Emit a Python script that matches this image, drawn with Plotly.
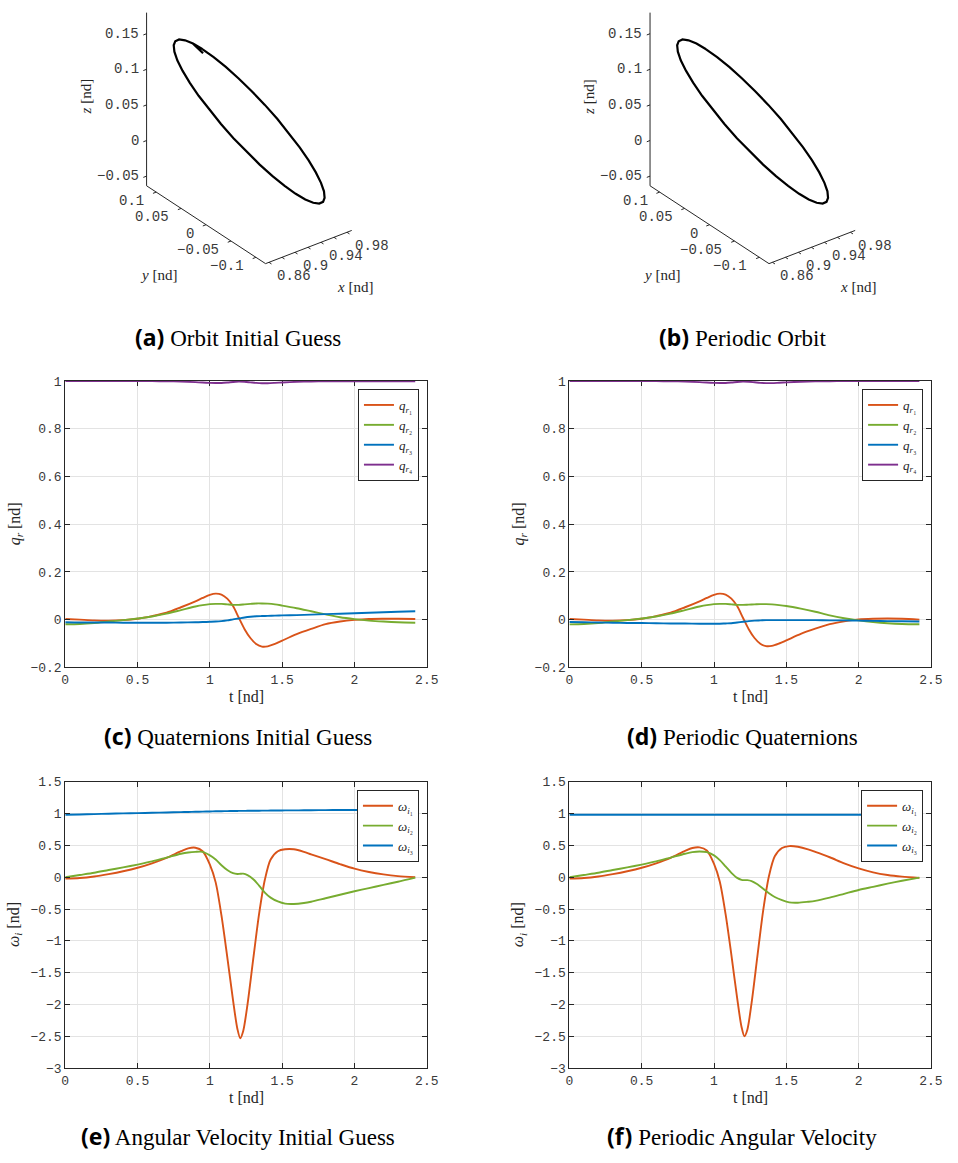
import numpy as np
import plotly.graph_objects as go

# ---------------- DATA ----------------
# Orbit (3D) - estimated points of the closed trajectory [nd]
orbit_x = [0.8547, 0.8557, 0.8587, 0.8636, 0.8702, 0.8784, 0.8879, 0.8983, 0.9095, 0.9210,
           0.9325, 0.9437, 0.9542, 0.9636, 0.9718, 0.9784, 0.9833, 0.9863, 0.9873,
           0.9863, 0.9833, 0.9784, 0.9718, 0.9636, 0.9542, 0.9437, 0.9325, 0.9210,
           0.9095, 0.8983, 0.8879, 0.8784, 0.8702, 0.8636, 0.8587, 0.8557, 0.8547]
orbit_y = [0.0069, -0.0139, -0.0343, -0.0537, -0.0714, -0.0870, -0.0998, -0.1097, -0.1163, -0.1193,
           -0.1187, -0.1145, -0.1068, -0.0958, -0.0820, -0.0657, -0.0473, -0.0275, -0.0069,
           0.0139, 0.0343, 0.0537, 0.0714, 0.0870, 0.0998, 0.1097, 0.1163, 0.1193,
           0.1187, 0.1145, 0.1068, 0.0958, 0.0820, 0.0657, 0.0473, 0.0275, 0.0069]
orbit_z = [0.1796, 0.1778, 0.1723, 0.1633, 0.1511, 0.1362, 0.1188, 0.0996, 0.0791, 0.0580,
           0.0369, 0.0164, -0.0028, -0.0202, -0.0351, -0.0473, -0.0563, -0.0618, -0.0636,
           -0.0618, -0.0563, -0.0473, -0.0351, -0.0202, -0.0028, 0.0164, 0.0369, 0.0580,
           0.0791, 0.0996, 0.1188, 0.1362, 0.1511, 0.1633, 0.1723, 0.1778, 0.1796]
# the initial guess ends slightly off its starting point
guess_end_x = [0.8557, 0.8562]
guess_end_y = [0.0275, 0.0080]
guess_end_z = [0.1778, 0.1730]

# 3D axis limits (tight) and ticks
x_lim3d = [0.8547, 0.9873]
y_lim3d = [-0.1193, 0.1193]
z_lim3d = [-0.0636, 0.1796]
x_ticks3d = [0.86, 0.88, 0.90, 0.92, 0.94, 0.96, 0.98]
x_text3d = ["0.86", "", "0.9", "", "0.94", "", "0.98"]
y_ticks3d = [-0.1, -0.05, 0, 0.05, 0.1]
y_text3d = ["\u22120.1", "\u22120.05", "0", "0.05", "0.1"]
z_ticks3d = [-0.05, 0, 0.05, 0.1, 0.15]
z_text3d = ["\u22120.05", "0", "0.05", "0.1", "0.15"]

# Quaternions
t_q = [0, 0.1, 0.2, 0.3, 0.4, 0.5, 0.6, 0.7, 0.8, 0.9, 0.95, 1.0, 1.04, 1.08, 1.12, 1.16,
       1.2, 1.24, 1.28, 1.32, 1.36, 1.4, 1.45, 1.5, 1.6, 1.7, 1.8, 1.9, 2.0, 2.1, 2.2, 2.3, 2.42]
q1_guess = [0.003, 0.0, -0.003, -0.004, -0.002, 0.004, 0.015, 0.029, 0.052, 0.077, 0.091, 0.104,
            0.109, 0.105, 0.088, 0.057, 0.008, -0.040, -0.077, -0.102, -0.113, -0.112, -0.102,
            -0.088, -0.061, -0.039, -0.019, -0.008, -0.001, 0.003, 0.004, 0.004, 0.003]
q2_guess = [-0.019, -0.018, -0.014, -0.008, -0.002, 0.005, 0.013, 0.025, 0.040, 0.055, 0.061, 0.065,
            0.066, 0.066, 0.064, 0.062, 0.062, 0.064, 0.066, 0.068, 0.068, 0.067, 0.064,
            0.059, 0.048, 0.035, 0.022, 0.010, 0.002, -0.004, -0.008, -0.011, -0.013]
q3_guess = [-0.011, -0.012, -0.012, -0.012, -0.013, -0.013, -0.013, -0.013, -0.012, -0.011, -0.010,
            -0.009, -0.008, -0.006, -0.003, 0.001, 0.005, 0.009, 0.012, 0.014, 0.015, 0.016, 0.017,
            0.018, 0.019, 0.021, 0.023, 0.025, 0.027, 0.029, 0.031, 0.033, 0.035]
q4_guess = [0.9998, 0.9998, 0.9999, 0.9999, 0.9999, 0.9999, 0.9998, 0.9993, 0.9978, 0.9955, 0.9939,
            0.9924, 0.9918, 0.9922, 0.9940, 0.9964, 0.9980, 0.9971, 0.9948, 0.9924, 0.9912, 0.9913,
            0.9927, 0.9943, 0.9969, 0.9986, 0.9995, 0.9996, 0.9996, 0.9995, 0.9994, 0.9994, 0.9993]

q1_per = [0.003, 0.0, -0.003, -0.004, -0.002, 0.004, 0.015, 0.029, 0.052, 0.077, 0.091, 0.104,
          0.109, 0.105, 0.088, 0.057, 0.008, -0.040, -0.077, -0.101, -0.111, -0.110, -0.100,
          -0.087, -0.060, -0.038, -0.019, -0.007, 0.001, 0.004, 0.005, 0.004, 0.000]
q2_per = [-0.020, -0.018, -0.014, -0.008, -0.002, 0.005, 0.013, 0.025, 0.040, 0.055, 0.061, 0.065,
          0.066, 0.066, 0.064, 0.062, 0.062, 0.063, 0.064, 0.065, 0.065, 0.064, 0.061,
          0.057, 0.046, 0.033, 0.018, 0.006, -0.003, -0.010, -0.015, -0.018, -0.019]
q3_per = [-0.010, -0.011, -0.012, -0.013, -0.014, -0.014, -0.015, -0.016, -0.016, -0.017, -0.017,
          -0.017, -0.017, -0.016, -0.015, -0.012, -0.009, -0.006, -0.004, -0.003, -0.002, -0.002,
          -0.002, -0.002, -0.002, -0.002, -0.003, -0.003, -0.004, -0.005, -0.006, -0.007, -0.008]
q4_per = [0.9997, 0.9998, 0.9998, 0.9999, 0.9999, 0.9999, 0.9998, 0.9993, 0.9978, 0.9955, 0.9939,
          0.9924, 0.9918, 0.9922, 0.9940, 0.9964, 0.9980, 0.9972, 0.9950, 0.9927, 0.9916, 0.9917,
          0.9931, 0.9946, 0.9971, 0.9987, 0.9996, 0.9999, 0.9999, 0.9999, 0.9998, 0.9998, 0.9998]

# Angular velocity
t_w = [0, 0.1, 0.2, 0.3, 0.4, 0.5, 0.6, 0.7, 0.8, 0.85, 0.9, 0.95, 1.0, 1.04, 1.08, 1.12, 1.16,
       1.19, 1.21, 1.23, 1.26, 1.3, 1.34, 1.38, 1.42, 1.47, 1.52, 1.58, 1.65, 1.7, 1.8, 1.9,
       2.0, 2.1, 2.2, 2.3, 2.42]
w1_guess = [-0.02, -0.012, 0.012, 0.05, 0.095, 0.15, 0.22, 0.305, 0.41, 0.455, 0.465, 0.41, 0.20,
            -0.08, -0.60, -1.25, -1.93, -2.38, -2.53, -2.42, -2.00, -1.28, -0.58, -0.04, 0.28,
            0.41, 0.44, 0.44, 0.40, 0.36, 0.285, 0.207, 0.135, 0.083, 0.045, 0.018, 0.0]
w2_guess = [0.0, 0.036, 0.072, 0.114, 0.155, 0.20, 0.25, 0.31, 0.37, 0.39, 0.40, 0.40, 0.345,
            0.28, 0.19, 0.115, 0.065, 0.052, 0.055, 0.057, 0.035, -0.03, -0.13, -0.24, -0.32,
            -0.38, -0.415, -0.42, -0.405, -0.385, -0.33, -0.275, -0.22, -0.17, -0.12, -0.07, -0.005]
w3_guess = [0.983, 0.988, 0.993, 0.999, 1.004, 1.009, 1.014, 1.019, 1.025, 1.027, 1.030, 1.032,
            1.035, 1.037, 1.039, 1.040, 1.042, 1.043, 1.044, 1.044, 1.045, 1.046, 1.047, 1.048,
            1.049, 1.050, 1.051, 1.052, 1.053, 1.054, 1.056, 1.057, 1.058, 1.059, 1.059, 1.060, 1.060]

w1_per = [-0.02, -0.012, 0.012, 0.05, 0.095, 0.15, 0.22, 0.305, 0.415, 0.46, 0.47, 0.42, 0.21,
          -0.07, -0.58, -1.22, -1.90, -2.35, -2.50, -2.40, -1.97, -1.24, -0.52, 0.02, 0.33,
          0.46, 0.49, 0.48, 0.44, 0.40, 0.315, 0.22, 0.14, 0.078, 0.036, 0.01, -0.01]
w2_per = [0.0, 0.036, 0.072, 0.114, 0.155, 0.20, 0.25, 0.31, 0.37, 0.395, 0.405, 0.395, 0.345,
          0.27, 0.17, 0.07, -0.01, -0.04, -0.045, -0.045, -0.06, -0.11, -0.18, -0.25, -0.31,
          -0.36, -0.395, -0.40, -0.385, -0.37, -0.32, -0.26, -0.20, -0.15, -0.10, -0.055, -0.005]
w3_per = [0.983] * len(t_w)

x_ticks = [0, 0.5, 1, 1.5, 2, 2.5]
x_ticktext = ["0", "0.5", "1", "1.5", "2", "2.5"]
q_ticks = [-0.2, 0, 0.2, 0.4, 0.6, 0.8, 1]
q_ticktext = ["\u22120.2", "0", "0.2", "0.4", "0.6", "0.8", "1"]
w_ticks = [-3, -2.5, -2, -1.5, -1, -0.5, 0, 0.5, 1, 1.5]
w_ticktext = ["\u22123", "\u22122.5", "\u22122", "\u22121.5", "\u22121", "\u22120.5", "0", "0.5", "1", "1.5"]

# ---------------- STYLE ----------------
W, H = 958, 1163
ORANGE, GREEN, BLUE, PURPLE = "#D95319", "#77AC30", "#0072BD", "#7E2F8E"
AX = "#262626"
TICKTXT = "#3a3a3a"
GRID = "#e3e3e3"
MONO = "Liberation Mono"
SERIF = "Liberation Serif"

# MATLAB-like 3D view (azimuth, elevation) with equal data aspect
VIEW_AZ, VIEW_EL = -37.5, 30.0
SCALE3D = 833.0            # px per nd unit
_phi = np.deg2rad(270 + VIEW_AZ)
_el = np.deg2rad(VIEW_EL)
RIGHT = np.array([-np.sin(_phi), np.cos(_phi), 0.0])
UP = np.array([-np.sin(_el) * np.cos(_phi), -np.sin(_el) * np.sin(_phi), np.cos(_el)])
ORIGIN = np.array([x_lim3d[0], y_lim3d[0], z_lim3d[0]])


def project(x, y, z):
    p = np.vstack([np.atleast_1d(np.asarray(x, float)), np.atleast_1d(np.asarray(y, float)),
                   np.atleast_1d(np.asarray(z, float))]) - ORIGIN[:, None]
    return SCALE3D * (RIGHT @ p), SCALE3D * (UP @ p)


def px_x(p):
    return p / W


def px_y(p):
    return 1 - p / H


fig = go.Figure()
ann = []

# ---------------- 3D panels (projected) ----------------
TICK = 0.005


def orbit_panel(xk, yk, ox, oy, oz, corner_px, dom_px):
    cx, cy = corner_px
    L, R, T, B = dom_px
    X, Y = project(ox, oy, oz)
    fig.add_trace(go.Scatter(x=X, y=Y, mode="lines", line=dict(color="black", width=2.2),
                             showlegend=False, xaxis=xk, yaxis=yk))
    x0, x1 = x_lim3d
    y0, y1 = y_lim3d
    z0, z1 = z_lim3d
    segs = [((x0, y0, z0), (x1, y0, z0)), ((x0, y0, z0), (x0, y1, z0)), ((x0, y1, z0), (x0, y1, z1))]
    segs += [((v, y0, z0), (v, y0 - TICK, z0)) for v in x_ticks3d]
    segs += [((x0, v, z0), (x0 - TICK, v, z0)) for v in y_ticks3d]
    segs += [((x0, y1, v), (x0 - TICK, y1, v)) for v in z_ticks3d]
    sx, sy = [], []
    for a, b in segs:
        pa, pb = project(*a), project(*b)
        sx += [pa[0][0], pb[0][0], None]
        sy += [pa[1][0], pb[1][0], None]
    fig.add_trace(go.Scatter(x=sx, y=sy, mode="lines", line=dict(color=AX, width=1),
                             showlegend=False, xaxis=xk, yaxis=yk))

    def lab(px_, py_, s, xanchor, xs, ys):
        ann.append(dict(x=float(px_), y=float(py_), xref=xk, yref=yk, text=s, showarrow=False,
                        font=dict(family=MONO, size=14, color=TICKTXT), xanchor=xanchor,
                        yanchor="middle", xshift=xs, yshift=ys))
    for v, s in zip(x_ticks3d, x_text3d):
        if s:
            X, Y = project(v, y0, z0)
            lab(X[0], Y[0], s, "left", 6, -14)
    for v, s in zip(y_ticks3d, y_text3d):
        X, Y = project(x0, v, z0)
        lab(X[0], Y[0], s, "right", -10, -9)
    for v, s in zip(z_ticks3d, z_text3d):
        X, Y = project(x0, y1, v)
        lab(X[0], Y[0], s, "right", -6, 0)
    return (dict(domain=[px_x(L), px_x(R)], range=[L - cx, R - cx], visible=False, anchor=yk),
            dict(domain=[px_y(B), px_y(T)], range=[cy - B, cy - T], visible=False, anchor=xk))


layout = dict(width=W, height=H, margin=dict(l=0, r=0, t=0, b=0), paper_bgcolor="white",
              plot_bgcolor="white", hovermode=False)

layout["xaxis5"], layout["yaxis5"] = orbit_panel(
    "x5", "y5", orbit_x + guess_end_x, orbit_y + guess_end_y, orbit_z + guess_end_z,
    (266, 261), (60, 420, 0, 300))
layout["xaxis6"], layout["yaxis6"] = orbit_panel(
    "x6", "y6", orbit_x, orbit_y, orbit_z, (778, 261), (572, 932, 0, 300))

# ---------------- 2D panels ----------------
panels = {
    "c": dict(x=(62.3, 430), y=(380, 670)),
    "d": dict(x=(575, 942.7), y=(380, 670)),
    "e": dict(x=(62.3, 430), y=(786, 1076)),
    "f": dict(x=(575, 942.7), y=(786, 1076)),
}
axis_ids = {"c": ("x", "y", ""), "d": ("x2", "y2", "2"), "e": ("x3", "y3", "3"), "f": ("x4", "y4", "4")}


def add_lines(panel, t, series, names, colors, legend):
    xa, ya, _ = axis_ids[panel]
    for s, n, c in zip(series, names, colors):
        fig.add_trace(go.Scatter(x=t, y=s, mode="lines", name=n, cliponaxis=False,
                                 line=dict(color=c, width=1.9, shape="spline", smoothing=0.8),
                                 xaxis=xa, yaxis=ya, legend=legend))


q_names = ["<i>q</i><sub><i>r</i>\u2081</sub>", "<i>q</i><sub><i>r</i>\u2082</sub>",
           "<i>q</i><sub><i>r</i>\u2083</sub>", "<i>q</i><sub><i>r</i>\u2084</sub>"]
w_names = ["<i>\u03c9</i><sub><i>i</i>\u2081</sub>", "<i>\u03c9</i><sub><i>i</i>\u2082</sub>",
           "<i>\u03c9</i><sub><i>i</i>\u2083</sub>"]
add_lines("c", t_q, [q1_guess, q2_guess, q3_guess, q4_guess], q_names, [ORANGE, GREEN, BLUE, PURPLE], "legend")
add_lines("d", t_q, [q1_per, q2_per, q3_per, q4_per], q_names, [ORANGE, GREEN, BLUE, PURPLE], "legend2")
add_lines("e", t_w, [w1_guess, w2_guess, w3_guess], w_names, [ORANGE, GREEN, BLUE], "legend3")
add_lines("f", t_w, [w1_per, w2_per, w3_per], w_names, [ORANGE, GREEN, BLUE], "legend4")

for p, spec in panels.items():
    xa, ya, sfx = axis_ids[p]
    is_q = p in ("c", "d")
    common = dict(showgrid=True, gridcolor=GRID, gridwidth=1, zeroline=False, showline=True,
                  linecolor=AX, linewidth=1, mirror="allticks", ticks="inside", ticklen=5,
                  tickcolor=AX, tickfont=dict(family=MONO, size=13, color=TICKTXT))
    layout["xaxis" + sfx] = dict(common, domain=[px_x(spec["x"][0]), px_x(spec["x"][1])],
                                 anchor=ya, range=[0, 2.5], tickvals=x_ticks, ticktext=x_ticktext,
                                 layer="below traces")
    layout["yaxis" + sfx] = dict(common, domain=[px_y(spec["y"][1]), px_y(spec["y"][0])],
                                 anchor=xa, range=[-0.2, 1] if is_q else [-3, 1.5],
                                 tickvals=q_ticks if is_q else w_ticks,
                                 ticktext=q_ticktext if is_q else w_ticktext)
    leg_top = 388 if is_q else 794
    layout["legend" + sfx] = dict(x=px_x(spec["x"][1] - 8), y=px_y(leg_top), xanchor="right", yanchor="top",
                                  bgcolor="white", bordercolor=AX, borderwidth=1,
                                  font=dict(family=SERIF, size=13, color=AX), itemwidth=30,
                                  tracegroupgap=0)

fig.update_layout(**layout)


# ---------------- annotations (titles / captions) ----------------
def text(xp, yp, s, size, family=SERIF, angle=0, xanchor="center"):
    ann.append(dict(x=px_x(xp), y=px_y(yp), xref="paper", yref="paper", text=s, showarrow=False,
                    font=dict(family=family, size=size, color="black" if size > 18 else AX),
                    textangle=angle, xanchor=xanchor, yanchor="middle"))


BOLD = '<span style="font-family:Noto Sans;font-weight:bold">'
captions = [(238, 335, "(a)", "Orbit Initial Guess"), (751, 335, "(b)", "Periodic Orbit"),
            (238, 740, "(c)", "Quaternions Initial Guess"), (751, 740, "(d)", "Periodic Quaternions"),
            (238, 1145, "(e)", "Angular Velocity Initial Guess"), (751, 1145, "(f)", "Periodic Angular Velocity")]
for xp, yp, tag, cap in captions:
    text(xp, yp, BOLD + tag + "</span> " + cap, 23)

for off in (0, 512):
    text(83 + off, 92, "<i>z</i> [nd]", 15, angle=-90)
    text(157 + off, 273, "<i>y</i> [nd]", 15)
    text(357 + off, 285, "<i>x</i> [nd]", 15)

for p, spec in panels.items():
    cx = (spec["x"][0] + spec["x"][1]) / 2
    cy = (spec["y"][0] + spec["y"][1]) / 2
    text(cx, spec["y"][1] + 30, "t [nd]", 16)
    lbl = "<i>q</i><sub><i>r</i></sub> [nd]" if p in ("c", "d") else "<i>\u03c9</i><sub><i>i</i></sub> [nd]"
    text(spec["x"][0] - 51, cy, lbl, 16, angle=-90)

fig.update_layout(annotations=ann)
fig.write_html("out.html", config=dict(displayModeBar=False))
